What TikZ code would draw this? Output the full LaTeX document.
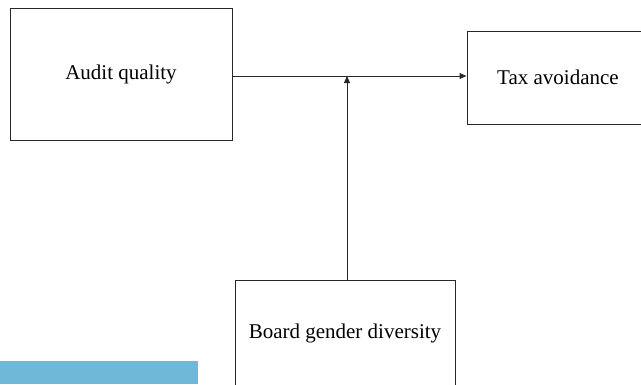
\documentclass[tikz,border=0pt]{standalone}
\usepackage{fontspec}
\setmainfont{Liberation Serif}
\usetikzlibrary{arrows.meta}
\definecolor{barblue}{RGB}{111,184,216}
\definecolor{linegray}{RGB}{40,40,40}
\tikzset{
  varbox/.style={draw=linegray, line width=1pt, rectangle, inner sep=0pt, align=center,
    font=\fontsize{21}{25}\selectfont},
  conn/.style={draw=linegray, line width=1pt, -{Triangle[length=7pt,width=6pt]}}
}
\begin{document}
\begin{tikzpicture}[x=1pt,y=-1pt]
\useasboundingbox (0,0) rectangle (641,384);
\fill[barblue] (0,361) rectangle (198,384);
\node[varbox, minimum width=222pt, minimum height=132pt] (aq) at (121,74) {Audit quality};
\node[varbox, minimum width=182pt, minimum height=93pt] (ta) at (558,77.5) {Tax avoidance};
\node[varbox, minimum width=220pt, minimum height=106pt] (bg) at (345,333) {Board gender diversity};
\coordinate (mid) at (347,76);
\draw[conn] (aq.east |- mid) -- (ta.west |- mid);
\draw[conn] (bg.north -| mid) -- (mid);
\end{tikzpicture}
\end{document}
